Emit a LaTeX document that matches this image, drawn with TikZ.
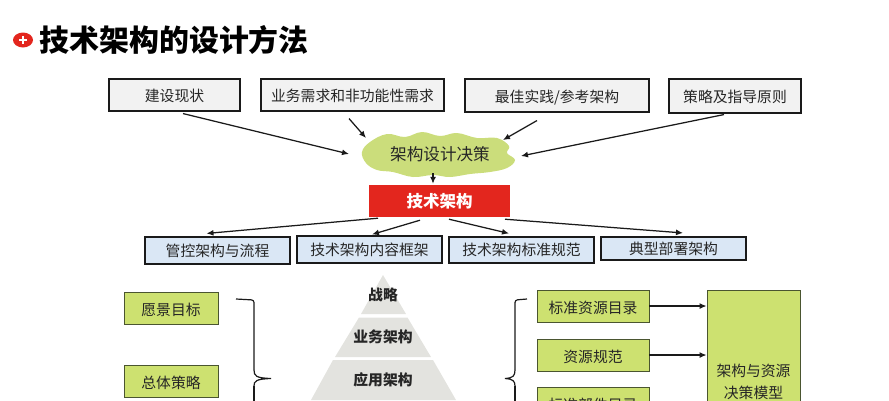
\documentclass[tikz,border=0pt]{standalone}
\usepackage{fontspec}
\setmainfont{Noto Sans CJK SC}
\usetikzlibrary{arrows.meta,calc}
\definecolor{graybox}{HTML}{F2F2F2}
\definecolor{bluebox}{HTML}{DAE7F5}
\definecolor{greenbox}{HTML}{CDE170}
\definecolor{greenline}{HTML}{4A5530}
\definecolor{cloudgreen}{HTML}{CBDD7B}
\definecolor{redbox}{HTML}{E3261E}
\definecolor{pyr}{HTML}{E3E3DF}
\definecolor{linecol}{HTML}{1A1A1A}
\tikzset{
  x=1pt,y=-1pt,
  lab/.style={font=\fontsize{14.8}{17}\selectfont,text=black!85},
  topbox/.style={draw=linecol,line width=1.1pt,fill=graybox,inner sep=0pt,lab,text height=14.8pt,text depth=1pt},
  bluenode/.style={draw=linecol,line width=1.1pt,fill=bluebox,inner sep=0pt,lab,text height=12.8pt,text depth=1pt},
  greennode/.style={draw=greenline,line width=0.9pt,fill=greenbox,inner sep=0pt,lab,text height=16.8pt,text depth=1pt},
  pyrlab/.style={font=\fontsize{14.8}{17}\selectfont\bfseries,text=black!85},
  conn/.style={draw=linecol,line width=1.25pt,-{Latex[length=7pt,width=6pt]}},
  bracket/.style={draw=linecol,line width=1.2pt,rounded corners=2.5pt},
  brtip/.style={draw=linecol,line width=1.2pt},
}
\begin{document}
\begin{tikzpicture}
\useasboundingbox (0,0) rectangle (889,400);
\clip (0,0) rectangle (889,400);
% title
\fill[redbox] (23,40) ellipse [x radius=10,y radius=7.5];
\fill[white] (19,38.6) rectangle (27,41.4);
\fill[white] (21.6,36) rectangle (24.4,44);
\node[anchor=west,inner sep=0pt,font=\fontsize{29.9}{34}\selectfont\bfseries,text=black] (title) at (39.5,39.5) {技术架构的设计方法};
% top boxes
\node[topbox,minimum width=131pt,minimum height=32pt] (a1) at (174.5,95) {建设现状};
\node[topbox,minimum width=183pt,minimum height=32pt] (a2) at (352.5,95) {业务需求和非功能性需求};
\node[topbox,minimum width=184pt,minimum height=33pt] (a3) at (557,95.5) {最佳实践/参考架构};
\node[topbox,minimum width=132pt,minimum height=34pt] (a4) at (735,96) {策略及指导原则};
% cloud
\fill[cloudgreen] plot[smooth cycle,tension=0.65] coordinates {
 (362,152) (370,142) (387,134) (405,137) (422,132) (440,136) (457,133) (477,138)
 (497,138) (509,146) (507,153) (515,160) (507,168) (490,172) (470,174) (450,177)
 (433,175) (413,177) (393,172) (377,170) (366,163)};
\node[font=\fontsize{16.6}{19}\selectfont,text=black!85,inner sep=0pt,minimum width=150pt,minimum height=44pt] (cl) at (440,154) {架构设计决策};
% red
\node[fill=redbox,minimum width=141pt,minimum height=32pt,inner sep=0pt,text=white,font=\fontsize{16.5}{19}\selectfont\bfseries] (red) at (439.5,201) {技术架构};
% blue row
\node[bluenode,minimum width=145pt,minimum height=27pt] (b1) at (217.5,250.5) {管控架构与流程};
\node[bluenode,minimum width=145pt,minimum height=27pt] (b2) at (369.5,249.5) {技术架构内容框架};
\node[bluenode,minimum width=145pt,minimum height=26pt] (b3) at (521.5,250) {技术架构标准规范};
\node[bluenode,minimum width=145pt,minimum height=23pt] (b4) at (673.5,248.5) {典型部署架构};
% left green
\node[greennode,minimum width=94pt,minimum height=32pt] (g1) at (171,308) {愿景目标};
\node[greennode,minimum width=94pt,minimum height=32pt] (g2) at (171,381) {总体策略};
% pyramid
\fill[pyr] (383,275) -- (406,314) -- (361,314) -- cycle;
\fill[pyr] (359,317.5) -- (407.5,317.5) -- (431,357) -- (335,357) -- cycle;
\fill[pyr] (333,360) -- (433,360) -- (456,400) -- (311,400) -- cycle;
\node[pyrlab] (p1) at (383,294.5) {战略};
\node[pyrlab] (p2) at (383,337) {业务架构};
\node[pyrlab] (p3) at (383,380) {应用架构};
% right green
\node[greennode,minimum width=112pt,minimum height=32pt] (h1) at (593,306) {标准资源目录};
\node[greennode,minimum width=112pt,minimum height=32pt] (h2) at (593,355) {资源规范};
\node[greennode,minimum width=112pt,minimum height=32pt] (h3) at (593,403) {标准部件目录};
\node[draw=greenline,line width=0.9pt,fill=greenbox,minimum width=93pt,minimum height=130pt] (big) at (753.5,355) {};
\node[lab] (bigt1) at (753.5,371) {架构与资源};
\node[lab] (bigt2) at (753.5,393) {决策模型};
% brackets
\coordinate (bl) at (236,299);
\coordinate (br) at (527,299);
\draw[bracket] (bl) -- (254,300) -- (254,370);
\draw[bracket] (254,386) -- (254,410);
\draw[brtip] (254,370) .. controls (254,376) and (256,378) .. (271,378.5) .. controls (256,379) and (254,381) .. (254,386);
\draw[bracket] (br) -- (515,300) -- (515,370);
\draw[bracket] (515,386) -- (515,410);
\draw[brtip] (515,370) .. controls (515,376) and (513,378) .. (505,378.5) .. controls (513,379) and (515,381) .. (515,386);
% connectors
\draw[conn] ([xshift=8.5pt,yshift=-2pt]a1.south) -- ([xshift=-91pt]cl.center);
\draw[conn] ([xshift=-3.5pt,yshift=-7pt]a2.south) -- ([xshift=-74pt,yshift=16pt]cl.center);
\draw[conn] ([xshift=-20pt,yshift=-8pt]a3.south) -- ([xshift=63pt,yshift=14pt]cl.center);
\draw[conn] ([xshift=-11pt,yshift=-1pt]a4.south) -- ([xshift=81pt,yshift=-2pt]cl.center);
\draw[conn] ([xshift=-7pt,yshift=3pt]cl.south) -- ([xshift=-6.5pt,yshift=1pt]red.north);
\draw[conn] ([xshift=-61.5pt,yshift=-1pt]red.south) -- ([xshift=-11pt,yshift=3pt]b1.north);
\draw[conn] ([xshift=-19.5pt,yshift=-3pt]red.south) -- ([xshift=2.5pt,yshift=1pt]b2.north);
\draw[conn] ([xshift=9.5pt,yshift=-2pt]red.south) -- ([xshift=-12.5pt,yshift=3pt]b3.north);
\draw[conn] ([xshift=65.5pt,yshift=-2pt]red.south) -- ([xshift=9.5pt,yshift=3.5pt]b4.north);
\draw[conn] (h1.east) -- (h1.east -| big.west);
\draw[conn] (h2.east) -- (h2.east -| big.west);
\end{tikzpicture}
\end{document}
